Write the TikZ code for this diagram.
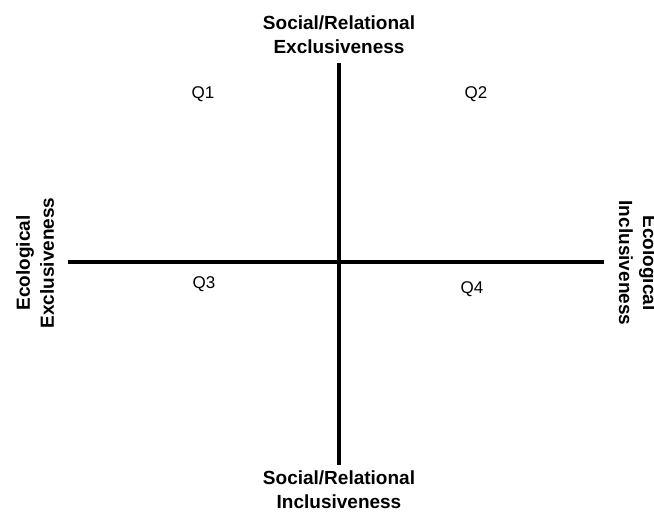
\documentclass[tikz,border=0pt]{standalone}
\usepackage{fontspec}
\setmainfont{Liberation Sans}
\begin{document}
\begin{tikzpicture}[x=1pt,y=-1pt,
  axis/.style={line width=3.5pt,black},
  axlabel/.style={font=\fontsize{19}{24}\selectfont\bfseries,align=center,inner sep=0pt},
  qlabel/.style={font=\fontsize{17}{20}\selectfont,inner sep=0pt}]
\useasboundingbox (0,0) rectangle (654,515);
\clip (0,0) rectangle (654,515);
\coordinate (top) at (339,63);
\coordinate (bot) at (339,465);
\coordinate (left) at (68,262);
\coordinate (right) at (604,262);
\draw[axis] (top) -- (bot);
\draw[axis] (left) -- (right);
\node[axlabel] (tl) at (339,35) {Social/Relational\\Exclusiveness};
\node[axlabel] (bl) at (339,490) {Social/Relational\\Inclusiveness};
\node[axlabel,rotate=90] (ll) at (35,263) {Ecological\\Exclusiveness};
\node[axlabel,rotate=-90] (rl) at (638,263) {Ecological\\Inclusiveness};
\node[qlabel] (q1) at (203,94) {Q1};
\node[qlabel] (q2) at (476,94) {Q2};
\node[qlabel] (q3) at (204,284) {Q3};
\node[qlabel] (q4) at (472,289) {Q4};
\end{tikzpicture}
\end{document}
